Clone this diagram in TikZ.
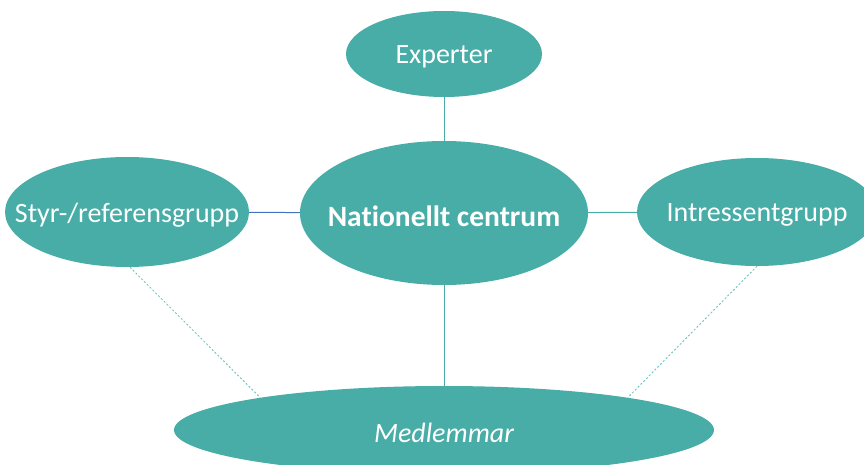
\documentclass[tikz,border=0pt]{standalone}
\usepackage{fontspec}
\setmainfont{Carlito}[Ligatures=NoCommon]
\usetikzlibrary{shapes.geometric}
\definecolor{teal1}{RGB}{71,173,166}
\definecolor{teallight}{RGB}{120,198,193}
\definecolor{blueline}{RGB}{68,114,196}
\newcommand{\bubtext}[1]{\makebox[0pt]{\raisebox{-3pt}[\height][\depth]{#1}}}
\tikzset{
  bubble/.style={ellipse, fill=teal1, text=white, inner sep=0pt, font=\fontsize{28}{32}\selectfont},
  link/.style={draw=teal1, line width=1pt},
  bluelink/.style={draw=blueline, line width=1pt},
  dotlink/.style={draw=teallight, line width=1pt, dash pattern=on 2pt off 2pt},
}
\begin{document}
\begin{tikzpicture}[x=1pt,y=-1pt]
\useasboundingbox (0,0) rectangle (864,465);
\clip (0,0) rectangle (864,465);
\node[bubble, minimum width=196pt, minimum height=86pt] (exp) at (444,54) {\bubtext{Experter}};
\node[bubble, minimum width=288pt, minimum height=144pt, font=\fontsize{29.5}{33}\selectfont\bfseries] (nat) at (444,213) {\bubtext{Nationellt centrum}};
\node[bubble, minimum width=244pt, minimum height=110pt] (sty) at (127,212) {\bubtext{Styr-/referensgrupp}};
\node[bubble, minimum width=240pt, minimum height=108pt] (int) at (757,212) {\bubtext{Intressentgrupp}};
\node[bubble, minimum width=540pt, minimum height=88pt, font=\fontsize{28}{32}\selectfont\itshape] (med) at (444,430) {\bubtext{Medlemmar}};
\draw[link] (exp) -- (nat);
\draw[link] (nat) -- (med);
\draw[bluelink] (sty) -- (nat);
\draw[link] (nat) -- (int);
\draw[dotlink] ([xshift=3pt]sty.south) -- (med.170);
\draw[dotlink] (int.south) -- (med.10.5);
\end{tikzpicture}
\end{document}
